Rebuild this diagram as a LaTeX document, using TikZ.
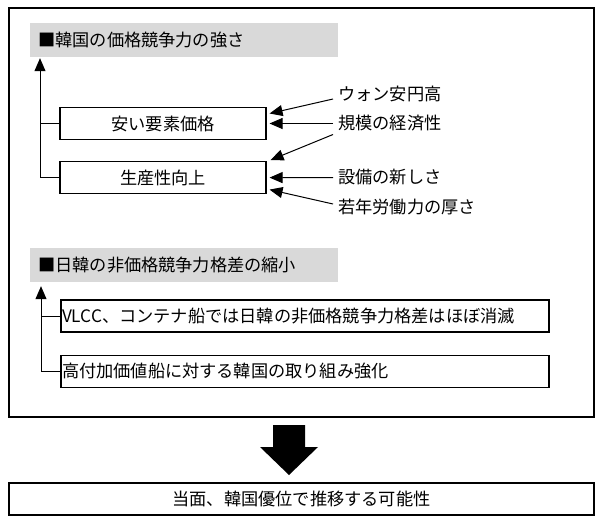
\documentclass[tikz,border=0pt]{standalone}
\usepackage{fontspec}
\setmainfont{Noto Sans CJK JP}
\usetikzlibrary{positioning,calc,arrows.meta}
\newcommand{\jpsize}{\fontsize{17.2}{21}\selectfont}
\newcommand{\lfttext}[2]{\makebox[#1][l]{#2}}
\tikzset{
  hdr/.style ={fill=black!15, inner xsep=8pt, inner ysep=2pt, minimum height=34pt, anchor=west, font=\jpsize},
  box/.style ={rectangle, draw=black, line width=1.1pt, minimum height=32pt, inner sep=1pt, font=\jpsize},
  lbl/.style ={anchor=west, inner xsep=5pt, inner ysep=2pt, font=\jpsize},
  e/.style   ={-{Triangle[length=13pt,width=11pt]}, draw=black, line width=1pt},
  ln/.style  ={draw=black, line width=1pt},
}
\begin{document}
\begin{tikzpicture}[x=1pt,y=1pt]
\useasboundingbox (0,0) rectangle (600,-520);
\draw[line width=1.4pt] (9,-8) rectangle (594,-417);
% price competitiveness
\node[hdr] (hdrA) at (30,-40) {\lfttext{292pt}{■韓国の価格競争力の強さ}};
\node[box, minimum width=206pt] (cheap) at (163,-123.5) {安い要素価格};
\node[box, minimum width=206pt, below=21pt of cheap] (prod) {生産性向上};
\node[lbl] (won)   at (333,-94)    {ウォン安円高};
\node[lbl] (scale) at (333,-123.5) {規模の経済性};
\node[lbl] (equip) at (333,-177.5) {設備の新しさ};
\node[lbl] (young) at (333,-207)   {若年労働力の厚さ};
\draw[e] ([yshift=-5pt]won.west) -- ([shift={(3pt,10pt)}]cheap.east);
\draw[e] (scale.west) -- ([xshift=3pt]cheap.east);
\draw[e] ([yshift=-11pt]scale.west) -- ([shift={(4pt,1pt)}]prod.north east);
\draw[e] (equip.west) -- ([xshift=3pt]prod.east);
\draw[e] ([yshift=3pt]young.west) -- ([shift={(3pt,-12pt)}]prod.east);
\coordinate (tipA) at ([shift={(10pt,-1pt)}]hdrA.south west);
\draw[e] (prod.west) -| (tipA);
\draw[ln] (cheap.west) -- (cheap.west -| tipA);
% non-price gap
\node[hdr] (hdrB) at (30,-265) {\lfttext{292pt}{■日韓の非価格競争力格差の縮小}};
\node[box] (vlcc) at (305,-316) {\lfttext{486pt}{VLCC、コンテナ船では日韓の非価格競争力格差はほぼ消滅}};
\node[box, below=22pt of vlcc] (hva) {\lfttext{486pt}{高付加価値船に対する韓国の取り組み強化}};
\coordinate (tipB) at ([shift={(11pt,-4pt)}]hdrB.south west);
\draw[e] (hva.west) -| (tipB);
\draw[ln] (vlcc.west) -- (vlcc.west -| tipB);
% outcome
\coordinate (bigA) at (289,-425);
\fill ([xshift=-16pt]bigA) -- ([xshift=16pt]bigA) -- ++(0,-22) -- ++(13,0)
  -- ([yshift=-50pt]bigA) -- ([shift={(-29pt,-22pt)}]bigA) -- ([shift={(-16pt,-22pt)}]bigA) -- cycle;
\node[box, minimum width=585pt] (result) at (301.5,-499) {当面、韓国優位で推移する可能性};
\end{tikzpicture}
\end{document}
